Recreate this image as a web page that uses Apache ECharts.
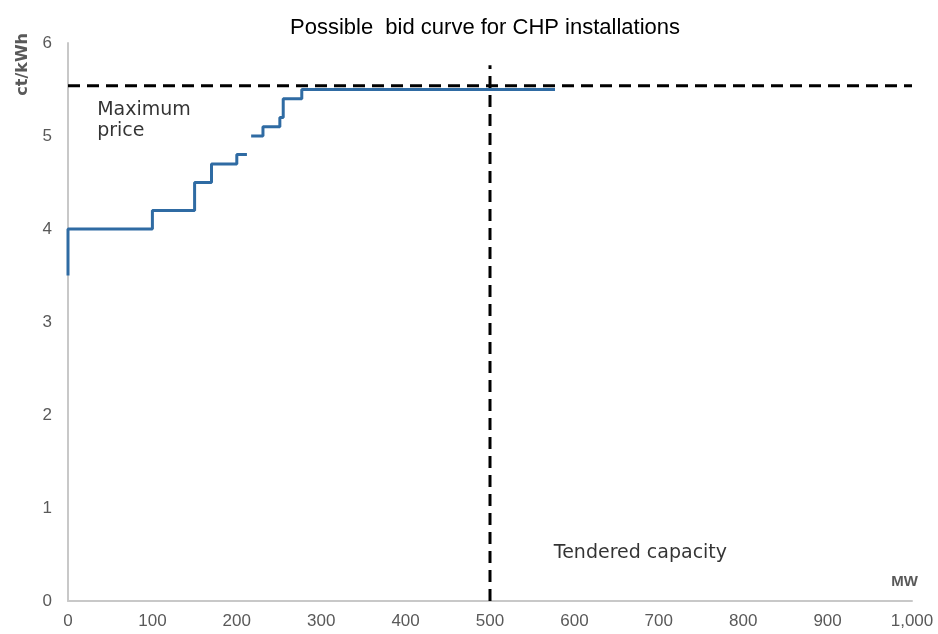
<!DOCTYPE html>
<html>
<head>
<meta charset="utf-8">
<script src="https://cdn.jsdelivr.net/npm/echarts@6/dist/echarts.min.js"></script>
<style>
  html, body { margin: 0; padding: 0; background: #fff; }
  #chart { width: 938px; height: 634px; }
</style>
</head>
<body>
<div id="chart"></div>
<script>
  // bid curve, two pieces (there is a gap around 215 MW)
  var bidLowMw = [0, 0, 100, 150, 170, 200, 212]
  var bidLowPrice = [3.5, 4.0, 4.2, 4.5, 4.7, 4.8, 4.8]
  var bidHighMw = [217, 231, 251, 255, 277, 577]
  var bidHighPrice = [5.0, 5.1, 5.2, 5.4, 5.5, 5.5]

  var maxPrice = 5.54
  var tenderedMw = 500
  var tenderedTop = 5.76

  var xTicks = ['0', '100', '200', '300', '400', '500', '600', '700', '800', '900', '1,000']

  // annotation anchors in data units
  var maxPriceNote = [34, 5.17]
  var tenderedNote = [575, 0.52]

  function pairs(xs, ys) {
    return xs.map(function (x, i) { return [x, ys[i]] })
  }

  var labelFont = 'Liberation Sans, Arial, sans-serif'
  var noteFont = 'DejaVu Sans, Verdana, sans-serif'
  var chart = echarts.init(document.getElementById('chart'))

  function note(pos, text) {
    return {
      type: 'scatter',
      data: [pos],
      symbolSize: 1,
      itemStyle: { color: 'rgba(0,0,0,0)' },
      silent: true,
      z: 5,
      label: {
        show: true,
        formatter: text,
        position: 'right',
        distance: 0,
        align: 'left',
        verticalAlign: 'middle',
        lineHeight: 21,
        fontFamily: noteFont,
        fontSize: 19,
        color: '#000'
      }
    }
  }

  chart.setOption({
    animation: false,
    title: {
      text: 'Possible  bid curve for CHP installations',
      left: 480,
      textAlign: 'center',
      top: 12,
      textStyle: { fontFamily: labelFont, fontSize: 22, fontWeight: 'normal', color: '#000' }
    },
    grid: { left: 68, right: 26, top: 43, bottom: 33 },
    xAxis: {
      type: 'value',
      min: 0,
      max: 1000,
      interval: 100,
      name: 'MW',
      nameLocation: 'end',
      nameGap: 0,
      nameTextStyle: {
        fontFamily: labelFont, fontSize: 15, fontWeight: 'bold', color: '#595959',
        align: 'right', verticalAlign: 'bottom', padding: [0, -6, 12, 0]
      },
      axisLine: { lineStyle: { color: '#c8c8c8', width: 2 } },
      axisTick: { show: false },
      splitLine: { show: false },
      axisLabel: {
        margin: 12,
        fontFamily: labelFont, fontSize: 17, color: '#595959',
        formatter: function (v) { return xTicks[Math.round(v / 100)] }
      }
    },
    yAxis: {
      type: 'value',
      min: 0,
      max: 6,
      interval: 1,
      name: 'ct/kWh',
      nameLocation: 'end',
      nameRotate: 90,
      nameGap: 10,
      nameTextStyle: {
        fontFamily: noteFont, fontSize: 16, fontWeight: 'bold', color: '#595959',
        align: 'right', verticalAlign: 'bottom', padding: [0, 0, 37, 0]
      },
      axisLine: { show: true, lineStyle: { color: '#c8c8c8', width: 2 } },
      axisTick: { show: false },
      splitLine: { show: false },
      axisLabel: { margin: 16, fontFamily: labelFont, fontSize: 17, color: '#595959' }
    },
    series: [
      {
        type: 'line',
        step: 'end',
        data: pairs(bidLowMw, bidLowPrice),
        showSymbol: false,
        lineStyle: { color: '#2f6ba3', width: 3 },
        z: 3
      },
      {
        type: 'line',
        step: 'end',
        data: pairs(bidHighMw, bidHighPrice),
        showSymbol: false,
        lineStyle: { color: '#2f6ba3', width: 3 },
        z: 3
      },
      {
        type: 'line',
        data: [[0, maxPrice], [1000, maxPrice]],
        showSymbol: false,
        lineStyle: { color: '#000', width: 3, type: [12, 7] },
        z: 4
      },
      {
        type: 'line',
        data: [[tenderedMw, 0], [tenderedMw, tenderedTop]],
        showSymbol: false,
        lineStyle: { color: '#000', width: 3, type: [12, 7] },
        z: 4
      },
      note(maxPriceNote, 'Maximum\nprice'),
      note(tenderedNote, 'Tendered capacity')
    ]
  })
</script>
</body>
</html>
